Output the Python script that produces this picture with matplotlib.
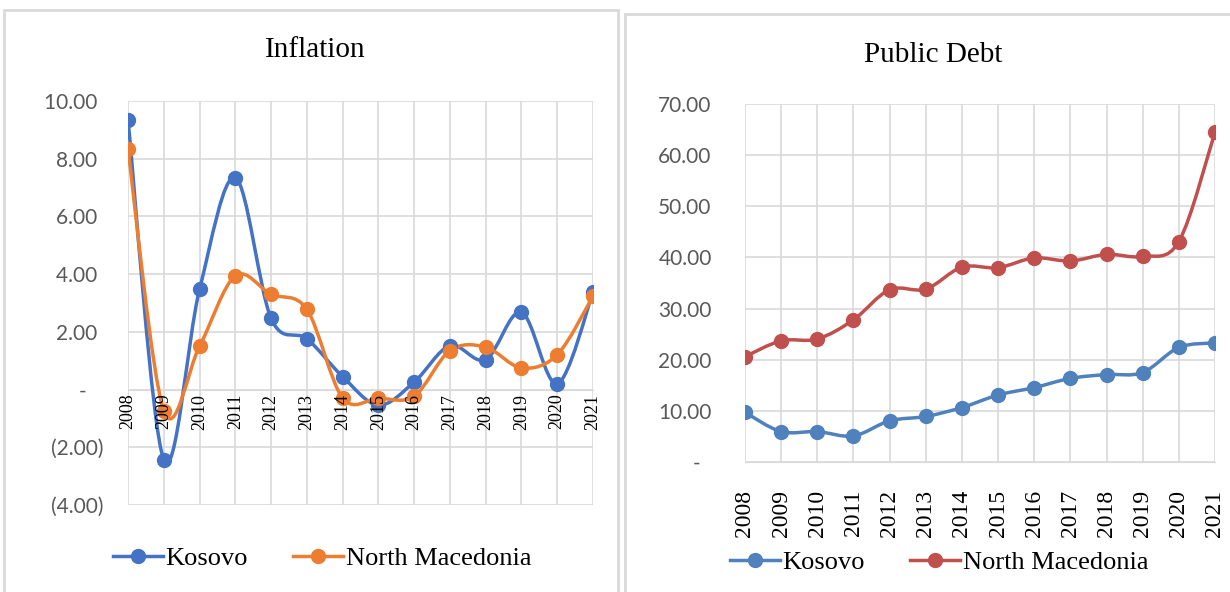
import numpy as np
import matplotlib.pyplot as plt
from matplotlib.path import Path
from matplotlib.patches import PathPatch, Rectangle
from matplotlib.lines import Line2D

# data
years = [2008, 2009, 2010, 2011, 2012, 2013, 2014, 2015, 2016, 2017, 2018, 2019, 2020, 2021]
infl_kosovo = [9.35, -2.43, 3.47, 7.34, 2.47, 1.76, 0.45, -0.54, 0.26, 1.52, 1.04, 2.68, 0.20, 3.37]
infl_macedonia = [8.32, -0.73, 1.50, 3.94, 3.30, 2.78, -0.29, -0.30, -0.23, 1.35, 1.47, 0.75, 1.21, 3.23]
debt_kosovo = [9.7, 5.95, 5.95, 5.1, 8.05, 8.9, 10.65, 13.1, 14.55, 16.35, 17.1, 17.5, 22.4, 23.3]
debt_macedonia = [20.6, 23.7, 24.05, 27.8, 33.7, 33.8, 38.1, 38.0, 39.9, 39.3, 40.6, 40.2, 43.1, 64.5]

infl_ticks = [-4, -2, 0, 2, 4, 6, 8, 10]
infl_labels = ["(4.00)", "(2.00)", "-   ", "2.00 ", "4.00 ", "6.00 ", "8.00 ", "10.00 "]
debt_ticks = [0, 10, 20, 30, 40, 50, 60, 70]
debt_labels = ["-  ", "10.00", "20.00", "30.00", "40.00", "50.00", "60.00", "70.00"]

GRID = "#D9D9D9"
TICKC = "#595959"
SERIF = "Liberation Serif"


def smooth_path(x, y):
    # Excel-style smoothed line: cubic bezier through the points
    p = np.column_stack([x, y]).astype(float)
    n = len(p)
    verts = [p[0]]
    codes = [Path.MOVETO]
    for i in range(n - 1):
        p0 = p[i - 1] if i > 0 else p[i]
        p3 = p[i + 2] if i + 2 < n else p[i + 1]
        c1 = p[i] + (p[i + 1] - p0) / 6
        c2 = p[i + 1] - (p3 - p[i]) / 6
        verts += [c1, c2, p[i + 1]]
        codes += [Path.CURVE4] * 3
    return Path(verts, codes)


def draw_series(ax, x, y, color):
    ax.add_patch(PathPatch(smooth_path(x, y), fill=False, edgecolor=color,
                           lw=2.5, capstyle="round", joinstyle="round", zorder=3))
    ax.plot(x, y, "o", color=color, ms=10, zorder=4)


fig = plt.figure(figsize=(12.3, 5.92), dpi=100)

# chart frames
fig.patches.append(Rectangle((4 / 1230, -0.01), 614 / 1230, 1 - 10 / 592 + 0.01,
                             transform=fig.transFigure, fill=False, ec=GRID, lw=2))
fig.patches.append(Rectangle((625 / 1230, -0.01), 610 / 1230, 1 - 14 / 592 + 0.01,
                             transform=fig.transFigure, fill=False, ec=GRID, lw=2))

# ---- Inflation ----
ax1 = fig.add_axes([128 / 1230, 1 - 505 / 592, 465 / 1230, 404 / 592])
ax1.spines["bottom"].set_position(("data", 0))
draw_series(ax1, years, infl_kosovo, "#4472C4")
draw_series(ax1, years, infl_macedonia, "#ED7D31")
ax1.set_xlim(years[0], years[-1])
ax1.set_ylim(-4, 10)
ax1.set_yticks(infl_ticks)
ax1.set_yticklabels(infl_labels, family="Lato", fontsize=15, color=TICKC)
ax1.set_xticks(years)
ax1.set_xticklabels([])
# year labels sit on top of the lines, like in the original
for yr in years:
    ax1.annotate(str(yr), (yr, 0), xytext=(0, -3), textcoords="offset points",
                 rotation=90, ha="center", va="top", family=SERIF, fontsize=13,
                 zorder=6, annotation_clip=False)
ax1.spines["bottom"].set_color(GRID)
for s in ["top", "left", "right"]:
    ax1.spines[s].set_visible(False)
ax1.tick_params(axis="x", length=0)
ax1.tick_params(axis="y", length=0, pad=18)
ax1.grid(True, color=GRID, lw=1.2, zorder=0)
ax1.set_axisbelow(True)
fig.text(315 / 1230, 1 - 50 / 592, "Inflation", family=SERIF, fontsize=21,
         ha="center", va="center")
h1 = [Line2D([], [], color="#4472C4", lw=2.5, marker="o", ms=10),
      Line2D([], [], color="#ED7D31", lw=2.5, marker="o", ms=10)]
fig.legend(h1, ["Kosovo", "North Macedonia"], loc="center",
           bbox_to_anchor=(322 / 1230, 1 - 558 / 592), ncol=2, frameon=False,
           prop={"family": SERIF, "size": 19}, handlelength=1.9, handletextpad=0.1,
           columnspacing=1.7)

# ---- Public Debt ----
ax2 = fig.add_axes([745 / 1230, 1 - 462 / 592, 470 / 1230, 358 / 592])
draw_series(ax2, years, debt_kosovo, "#4F81BD")
draw_series(ax2, years, debt_macedonia, "#C0504D")
ax2.set_xlim(years[0], years[-1])
ax2.set_ylim(0, 70)
ax2.set_yticks(debt_ticks)
ax2.set_yticklabels(debt_labels, family="Lato", fontsize=15, color=TICKC)
ax2.set_xticks(years)
ax2.set_xticklabels([str(y) for y in years], rotation=90, family=SERIF, fontsize=17,
                    va="top")
for s in ["top", "left", "right"]:
    ax2.spines[s].set_visible(False)
ax2.spines["bottom"].set_color(GRID)
ax2.tick_params(axis="x", length=0, pad=20)
ax2.tick_params(axis="y", length=0, pad=24)
ax2.grid(True, color=GRID, lw=1.2, zorder=0)
ax2.set_axisbelow(True)
fig.text(933 / 1230, 1 - 55 / 592, "Public Debt", family=SERIF, fontsize=21,
         ha="center", va="center")
h2 = [Line2D([], [], color="#4F81BD", lw=2.5, marker="o", ms=10),
      Line2D([], [], color="#C0504D", lw=2.5, marker="o", ms=10)]
fig.legend(h2, ["Kosovo", "North Macedonia"], loc="center",
           bbox_to_anchor=(939 / 1230, 1 - 562 / 592), ncol=2, frameon=False,
           prop={"family": SERIF, "size": 19}, handlelength=1.9, handletextpad=0.1,
           columnspacing=1.7)

fig.savefig("out.png", dpi=100)
